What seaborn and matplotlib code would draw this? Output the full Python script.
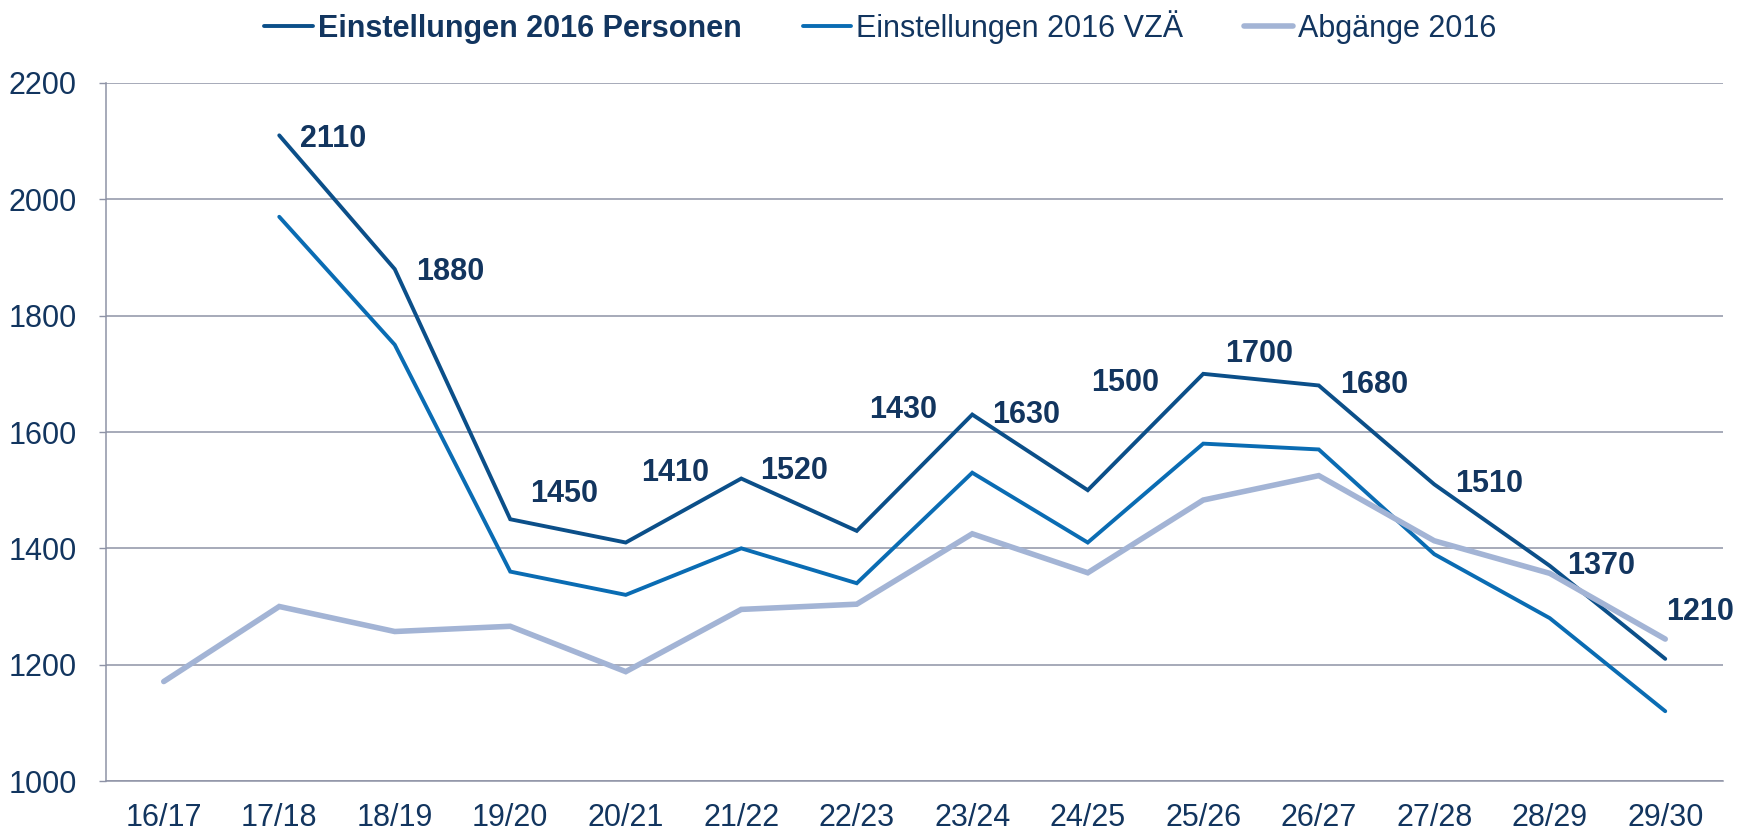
import matplotlib
matplotlib.use("Agg")
import matplotlib.pyplot as plt
import seaborn as sns
import pandas as pd
import numpy as np
from matplotlib.ticker import MultipleLocator, FixedLocator

categories = ["16/17", "17/18", "18/19", "19/20", "20/21", "21/22", "22/23",
              "23/24", "24/25", "25/26", "26/27", "27/28", "28/29", "29/30"]
personen = [np.nan, 2110, 1880, 1450, 1410, 1520, 1430, 1630, 1500, 1700, 1680, 1510, 1370, 1210]
vza = [np.nan, 1970, 1750, 1360, 1320, 1400, 1340, 1530, 1410, 1580, 1570, 1390, 1280, 1120]
abgaenge = [1171, 1300, 1257, 1266, 1188, 1295, 1304, 1425, 1358, 1483, 1525, 1413, 1357, 1244]
series_names = ["Einstellungen 2016 Personen", "Einstellungen 2016 VZÄ", "Abgänge 2016"]

# label offsets in pixels (style only)
label_dx = [0, 54, 55, 54, 49, 53, 46, 54, 37, 56, 55, 55, 51, 35]
label_dy = [0, -4, -3, 25, 70, 8, 121, 0, 107, 20, 0, 0, 0, 47]

sns.set_theme(style="white")
plt.rcParams['font.family'] = ['Liberation Sans', 'DejaVu Sans']

text_col = "#12355f"
grid_col = "#8e93a6"
colors = ["#0b4f89", "#0a6cb3", "#a3b4d5"]
widths = [2.8, 2.8, 4.0]
fs = 22

fig = plt.figure(figsize=(17.43, 8.33), dpi=100)
ax = fig.add_axes([106/1743, 1-781/833, (1723-106)/1743, (781-83)/833])

x = np.arange(len(categories))
for vals, name, c, lw in zip([personen, vza, abgaenge], series_names, colors, widths):
    df = pd.DataFrame({"x": x, "y": vals}).dropna()
    sns.lineplot(data=df, x="x", y="y", ax=ax, color=c, linewidth=lw, label=name,
                 solid_joinstyle="miter")

for i, v in enumerate(personen):
    if np.isnan(v):
        continue
    ax.annotate(f"{int(v)}", (x[i], v), xytext=(label_dx[i], label_dy[i]),
                textcoords="offset pixels", ha="center", va="center",
                fontsize=fs, fontweight="bold", color=text_col)

ax.set_xlim(-0.5, len(categories) - 0.5)
ax.set_ylim(1000, 2200)
ax.yaxis.set_major_locator(MultipleLocator(200))
ax.set_xticks(x)
ax.set_xticklabels(categories)
ax.xaxis.set_minor_locator(FixedLocator(np.arange(-0.5, len(categories), 1.0)))
ax.tick_params(axis="x", which="major", length=0, pad=16, labelsize=fs, labelcolor=text_col)
ax.tick_params(axis="x", which="minor", length=6, width=1, color=grid_col, direction="out")
ax.tick_params(axis="y", which="major", length=5, width=1, color=grid_col, direction="out",
               pad=16, labelsize=fs, labelcolor=text_col, left=True)
ax.set_xlabel("")
ax.set_ylabel("")
ax.grid(axis="y", color=grid_col, linewidth=1.1)
ax.grid(axis="x", visible=False)
for s in ["top", "right"]:
    ax.spines[s].set_visible(False)
for s in ["left", "bottom"]:
    ax.spines[s].set_color(grid_col)
    ax.spines[s].set_linewidth(1.1)

if ax.legend_ is not None:
    ax.legend_.remove()
handles, labels = ax.get_legend_handles_labels()
leg = fig.legend(handles, labels, loc="center", bbox_to_anchor=(0.505, 0.968), ncol=3,
                 frameon=False, fontsize=fs, handlelength=1.6, handletextpad=0.15,
                 columnspacing=2.0)
for i, t in enumerate(leg.get_texts()):
    t.set_color(text_col)
    if i == 0:
        t.set_fontweight("bold")

fig.savefig("out.png", dpi=100)
